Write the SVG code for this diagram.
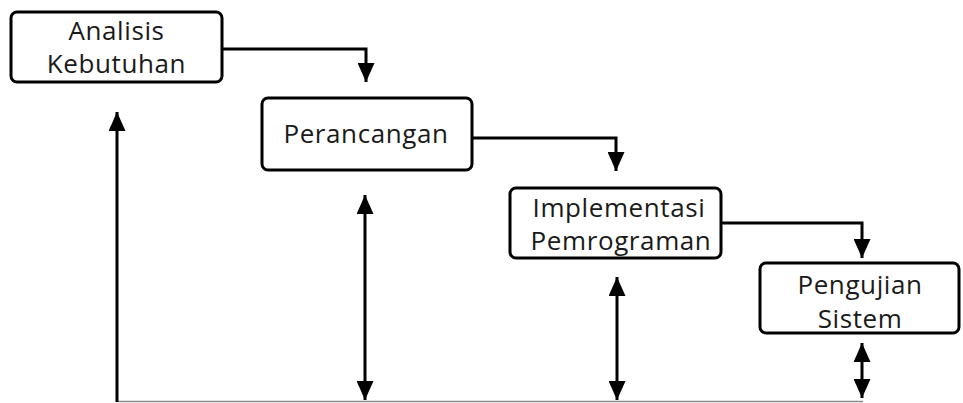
<svg xmlns="http://www.w3.org/2000/svg" width="963" height="403" viewBox="0 0 963 403">
  <style>
    .box { fill: #ffffff; stroke: #000000; stroke-width: 3; }
    .lbl { font-family: "Open Sans", Lato, "Liberation Sans", sans-serif; font-weight: 400; font-size: 26px; letter-spacing: 0.6px; fill: #1a1a1a; text-anchor: middle; }
    .wire { fill: none; stroke: #000000; stroke-width: 3; }
    .base { stroke: #8a8a8a; stroke-width: 1.5; }
  </style>
  <defs>
    <marker id="head" viewBox="0 0 19 17" refX="19" refY="8.5" markerWidth="19" markerHeight="17" markerUnits="userSpaceOnUse" orient="auto-start-reverse">
      <path d="M0,0 L19,8.5 L0,17 Z" fill="#000000"/>
    </marker>
  </defs>

  <rect width="963" height="403" fill="#ffffff"/>

  <g id="connectors">
    <!-- flow from one stage to the next -->
    <path class="wire" d="M222,49 H366 V82" marker-end="url(#head)"/>
    <path class="wire" d="M472,138 H616 V171" marker-end="url(#head)"/>
    <path class="wire" d="M721,223 H862 V258" marker-end="url(#head)"/>
    <!-- return paths along the base line -->
    <line class="base" x1="117" y1="401.5" x2="863" y2="401.5"/>
    <path class="wire" d="M117,402 V112" marker-end="url(#head)"/>
    <path class="wire" d="M365,195 V400" marker-start="url(#head)" marker-end="url(#head)"/>
    <path class="wire" d="M617,277 V400" marker-start="url(#head)" marker-end="url(#head)"/>
    <path class="wire" d="M862,343 V398" marker-start="url(#head)" marker-end="url(#head)"/>
  </g>

  <g id="analisis">
    <rect class="box" x="11" y="12" width="211" height="70" rx="6"/>
    <text class="lbl" x="116.5" y="40">Analisis</text>
    <text class="lbl" x="116.5" y="73">Kebutuhan</text>
  </g>

  <g id="perancangan">
    <rect class="box" x="262" y="98" width="210" height="72" rx="6"/>
    <text class="lbl" x="366" y="143">Perancangan</text>
  </g>

  <g id="implementasi">
    <rect class="box" x="510" y="188" width="211" height="70" rx="6"/>
    <text class="lbl" x="619" y="217">Implementasi</text>
    <text class="lbl" x="621" y="250">Pemrograman</text>
  </g>

  <g id="pengujian">
    <rect class="box" x="760" y="263" width="199" height="70" rx="6"/>
    <text class="lbl" x="860" y="294">Pengujian</text>
    <text class="lbl" x="860" y="328">Sistem</text>
  </g>
</svg>
